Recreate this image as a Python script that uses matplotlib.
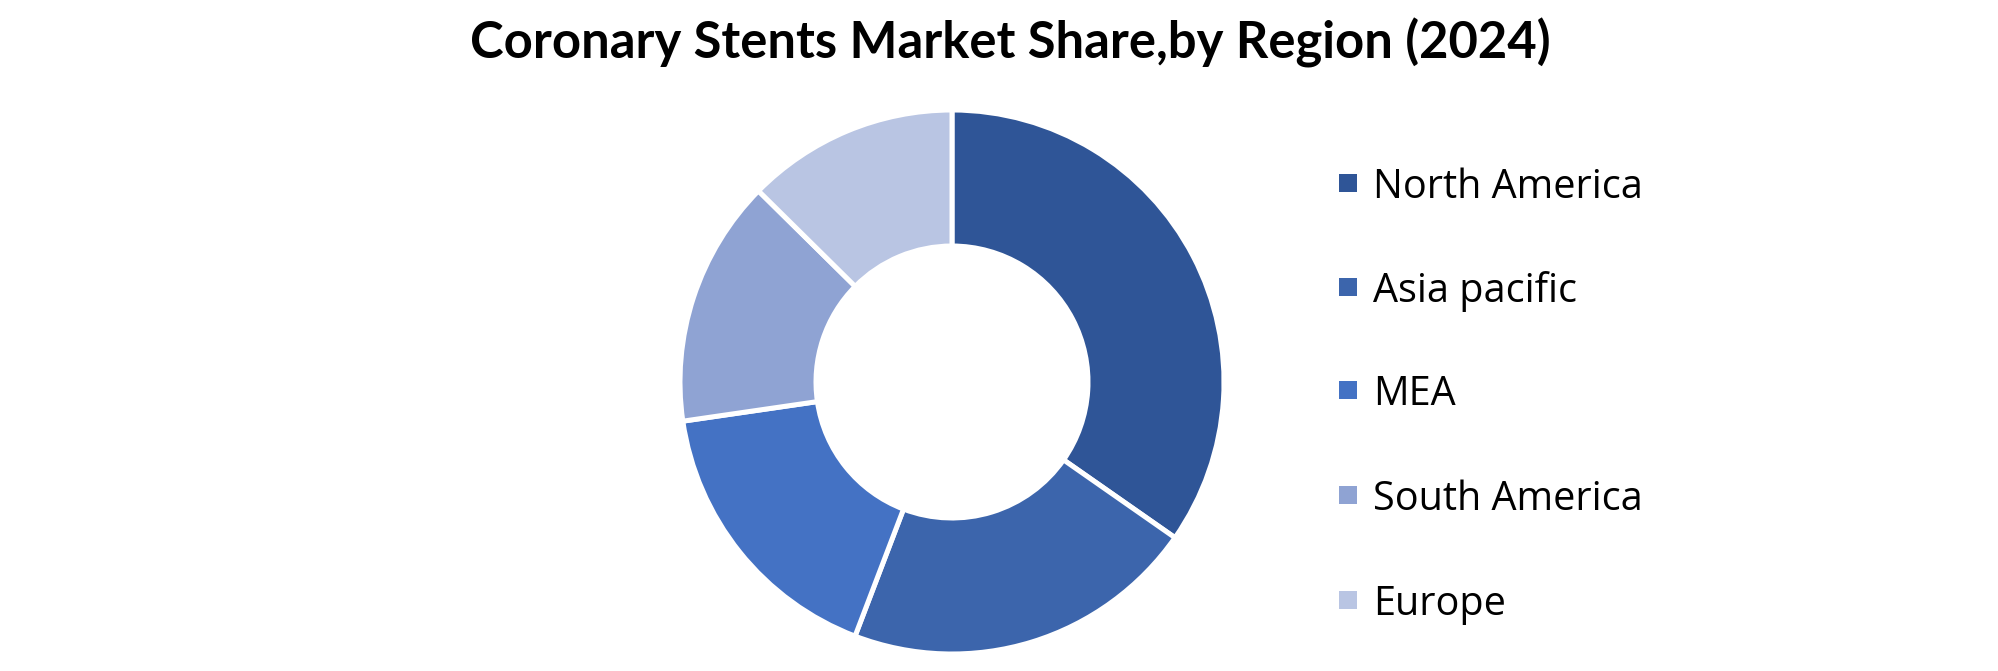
"""Coronary stents market share by region, donut chart."""

import matplotlib

matplotlib.use("Agg")
import matplotlib.pyplot as plt
from matplotlib.patches import Rectangle

# data
regions = ["North America", "Asia pacific", "MEA", "South America", "Europe"]
shares = [34.7, 21.1, 16.9, 14.7, 12.6]
colors = ["#2F5597", "#3C65AC", "#4472C4", "#8FA3D3", "#B9C5E3"]
title = "Coronary Stents Market Share,by Region (2024)"

W, H = 1999, 671
fig = plt.figure(figsize=(W / 100, H / 100), dpi=100)

# donut: centre (952, 382) px, outer radius ~272 px
cx, cy, r = 952, 382, 272
ax = fig.add_axes([(cx - r) / W, (H - cy - r) / H, 2 * r / W, 2 * r / H])
ax.pie(
    shares,
    colors=colors,
    startangle=90,
    counterclock=False,
    radius=1.0,
    wedgeprops=dict(width=0.5, edgecolor="white", linewidth=3.6),
)
ax.set_xlim(-1, 1)
ax.set_ylim(-1, 1)
ax.set_aspect("equal")
ax.axis("off")

fig.text(
    1010 / W, (H - 58) / H, title,
    ha="center", va="baseline",
    fontsize=36.5, fontweight="bold", family=["Lato", "DejaVu Sans"],
)

# legend drawn by hand so the row spacing matches
row_y = [183, 287, 390, 495, 600]
for label, color, y in zip(regions, colors, row_y):
    fig.add_artist(
        Rectangle(
            (1339 / W, (H - y - 9) / H), 18 / W, 18 / H,
            transform=fig.transFigure, facecolor=color, edgecolor="none",
        )
    )
    fig.text(
        1373 / W, (H - y) / H, label,
        ha="left", va="center_baseline",
        fontsize=28.5, family=["Open Sans", "DejaVu Sans"],
    )

fig.savefig("out.png", dpi=100, facecolor="white")
